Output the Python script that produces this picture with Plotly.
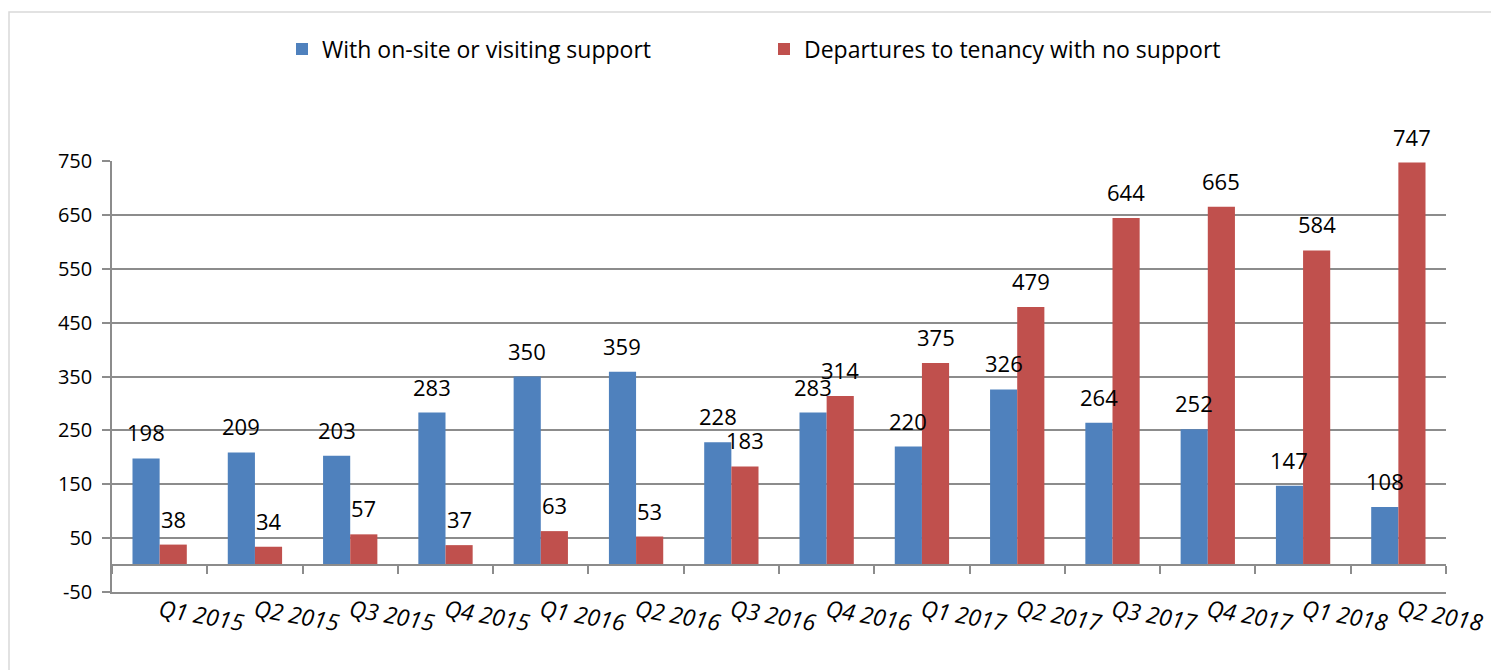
import plotly.graph_objects as go

categories = ["Q1 2015", "Q2 2015", "Q3 2015", "Q4 2015", "Q1 2016", "Q2 2016", "Q3 2016",
              "Q4 2016", "Q1 2017", "Q2 2017", "Q3 2017", "Q4 2017", "Q1 2018", "Q2 2018"]
with_support = [198, 209, 203, 283, 350, 359, 228, 283, 220, 326, 264, 252, 147, 108]
no_support = [38, 34, 57, 37, 63, 53, 183, 314, 375, 479, 644, 665, 584, 747]
y_ticks = [-50, 50, 150, 250, 350, 450, 550, 650, 750]
y_ticktext = ["-50", "50", "150", "250", "350", "450", "550", "650", "750"]

FONT = "Open Sans"
FS_Y = 20
FS_LBL = 22
FS_X = 23
FS_LEG = 23
BLUE = "#4F81BD"
RED = "#C0504D"
GRID = "#8C8C8C"

n = len(categories)
xpos = list(range(n))
boundaries = [i - 0.5 for i in range(n + 1)]
BARGAP = 0.43

L, R, T, B = 112, 45, 161, 78
W, H = 1491, 670
ph = H - T - B
pw = W - L - R
zero_frac = (0 - y_ticks[0]) / (y_ticks[-1] - y_ticks[0])
bar_px = pw / n * (1 - BARGAP) / 2

fig = go.Figure()
fig.add_trace(go.Bar(x=xpos, y=with_support, name="With on-site or visiting support",
                     marker=dict(color=BLUE, line=dict(width=0))))
fig.add_trace(go.Bar(x=xpos, y=no_support, name="Departures to tenancy with no support",
                     marker=dict(color=RED, line=dict(width=0))))

for series, sign in ((with_support, -1), (no_support, 1)):
    for i, v in enumerate(series):
        fig.add_annotation(x=i, y=v, text=str(v), showarrow=False, xref="x", yref="y",
                           xshift=sign * bar_px / 2, yshift=26, yanchor="middle",
                           font=dict(family=FONT, size=FS_LBL, color="black"))

fig.update_layout(
    width=W, height=H,
    margin=dict(l=L, r=R, t=T, b=B, autoexpand=False),
    paper_bgcolor="white", plot_bgcolor="white",
    barmode="group", bargap=BARGAP, bargroupgap=0,
    font=dict(family=FONT, size=FS_Y, color="black"),
    legend=dict(orientation="h", x=(282 - L) / pw, xanchor="left", y=1 + (T - 49) / ph,
                yanchor="middle", font=dict(family=FONT, size=FS_LEG), itemwidth=30,
                traceorder="normal", entrywidth=437, entrywidthmode="pixels"),
    xaxis=dict(range=[-0.5, n - 0.5], tickvals=xpos, ticktext=categories, tickangle=10,
               tickfont=dict(family=FONT, size=FS_X, style="italic"), automargin=False,
               showline=True, linecolor=GRID, linewidth=1.5, ticks="", showgrid=False,
               zeroline=False, ticklabelstandoff=-5),
    xaxis2=dict(range=[-0.5, n - 0.5], overlaying="x", anchor="free", position=zero_frac,
                side="bottom", showline=True, linecolor=GRID, linewidth=1.5, automargin=False,
                tickvals=boundaries, ticks="outside", ticklen=8, tickcolor=GRID, tickwidth=1.5,
                showticklabels=False, showgrid=False, zeroline=False),
    yaxis=dict(range=[y_ticks[0], y_ticks[-1]], tickvals=y_ticks, ticktext=y_ticktext,
               tickfont=dict(family=FONT, size=FS_Y), showline=True, linecolor=GRID, linewidth=1.5,
               ticks="outside", ticklen=8, tickcolor=GRID, tickwidth=1.5, ticklabelstandoff=6,
               automargin=False,
               showgrid=True, gridcolor=GRID, gridwidth=1.5, zeroline=False),
)
fig.add_trace(go.Scatter(x=[None], y=[None], xaxis="x2", showlegend=False, hoverinfo="skip"))

fig.add_shape(type="rect", xref="paper", yref="paper",
              x0=(9 - L) / pw, x1=(W + 5 - L) / pw,
              y0=-(B + 10) / ph, y1=(H - B - 12) / ph,
              line=dict(color="#D9D9D9", width=1.5), fillcolor="rgba(0,0,0,0)", layer="below")

fig.write_html("out.html")
